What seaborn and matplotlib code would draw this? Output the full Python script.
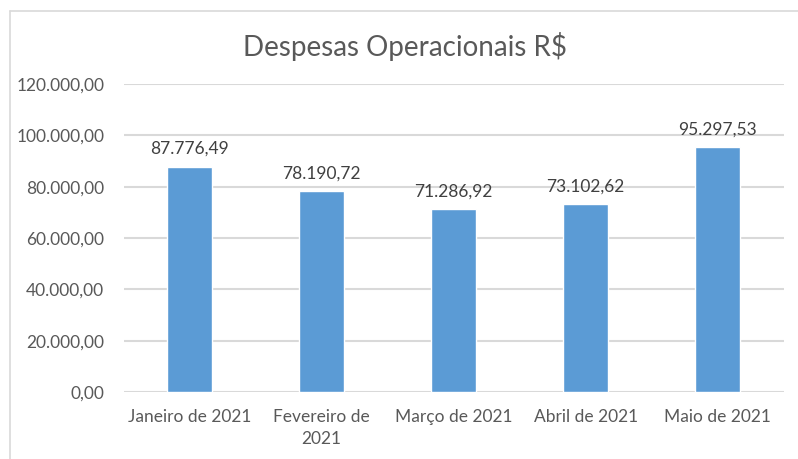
import matplotlib
matplotlib.use('Agg')
import matplotlib.pyplot as plt
import seaborn as sns
import pandas as pd
from matplotlib.lines import Line2D
from matplotlib.ticker import FuncFormatter

# Dados do grafico
meses = ['Janeiro de 2021', 'Fevereiro de\n2021', 'Março de 2021', 'Abril de 2021', 'Maio de 2021']
despesas = [87776.49, 78190.72, 71286.92, 73102.62, 95297.53]
rotulos = ['87.776,49', '78.190,72', '71.286,92', '73.102,62', '95.297,53']

df = pd.DataFrame({'Mes': meses, 'Despesa': despesas})


def fmt_br(v, pos=None):
    s = f"{v:,.2f}"
    return s.replace(',', 'X').replace('.', ',').replace('X', '.')


sns.set_style('white')
plt.rcParams['font.family'] = ['Lato', 'DejaVu Sans']

fig = plt.figure(figsize=(7.98, 4.59), dpi=100)
ax = fig.add_axes([0.155, 0.146, 0.827, 0.671])

sns.barplot(data=df, x='Mes', y='Despesa', color='#5B9BD5', saturation=1,
            width=0.34, ax=ax, zorder=3)

ax.set_ylim(0, 120000)
ax.set_yticks(range(0, 120001, 20000))
ax.yaxis.set_major_formatter(FuncFormatter(fmt_br))
ax.grid(axis='y', color='#D9D9D9', linewidth=1.5, zorder=0)
ax.set_axisbelow(True)
for s in ax.spines.values():
    s.set_visible(False)
ax.tick_params(axis='both', length=0, labelsize=12.5, colors='#595959')
ax.tick_params(axis='x', pad=12)
ax.tick_params(axis='y', pad=14)
for lbl in ax.get_xticklabels():
    lbl.set_linespacing(1.45)
ax.set_xlabel('')
ax.set_ylabel('')

# rotulos de dados
for i, (v, txt) in enumerate(zip(despesas, rotulos)):
    ax.annotate(txt, (i, v), xytext=(0, 7), textcoords='offset points',
                ha='center', va='bottom', fontsize=12.5, color='#404040')

fig.suptitle('Despesas Operacionais R$', x=0.507, y=0.93, fontsize=20, color='#595959')

# borda do grafico
fig.add_artist(Line2D([10/798, 1], [1 - 11/459, 1 - 11/459], color='#D9D9D9', linewidth=1.2))
fig.add_artist(Line2D([10/798, 10/798], [0, 1 - 11/459], color='#D9D9D9', linewidth=1.2))

fig.savefig('out.png', dpi=100)
